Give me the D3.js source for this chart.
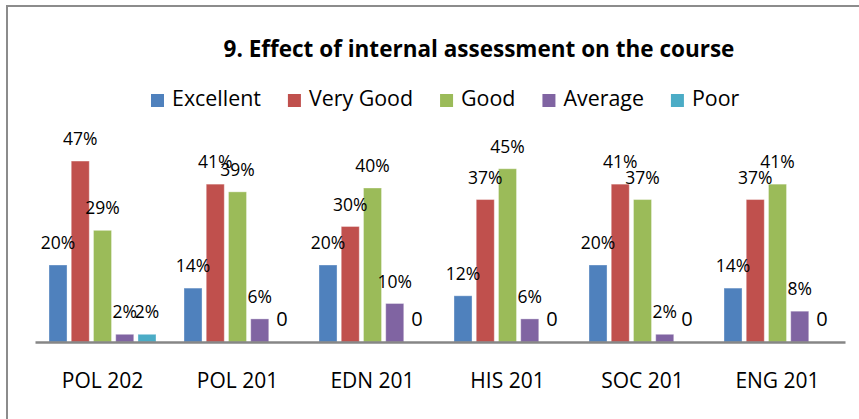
<!DOCTYPE html>
<html lang="en">
	<head>
		<meta charset="utf-8">
		<title>Effect of internal assessment</title>
		<script type="text/javascript" src="https://cdn.jsdelivr.net/npm/d3@7"></script>
		<style type="text/css">
			body{
				margin: 0;
				background: #fff;
			}
			text{
				font-family: "Open Sans", sans-serif;
				fill: #000;
			}
		</style>
	</head>
	<body>
		<script type="text/javascript">

			//Data
			var courses = ["POL 202", "POL 201", "EDN 201", "HIS 201", "SOC 201", "ENG 201"];
			var ratings = ["Excellent", "Very Good", "Good", "Average", "Poor"];
			var excellent = [20, 14, 20, 12, 20, 14];
			var veryGood  = [47, 41, 30, 37, 41, 37];
			var good      = [29, 39, 40, 45, 37, 41];
			var average   = [2, 6, 10, 6, 2, 8];
			var poor      = [2, 0, 0, 0, 0, 0];
			var colors = ["#4F81BD", "#C0504D", "#9BBB59", "#8064A2", "#4BACC6"];

			var series = [excellent, veryGood, good, average, poor];

			//Width and height
			var w = 859;
			var h = 419;
			var baseY = 342;

			var svg = d3.select("body")
						.append("svg")
						.attr("width", w)
						.attr("height", h);

			//frame (only top and left edges show)
			svg.append("path")
			   .attr("d", "M7,419 L7,6 L859,6")
			   .attr("fill", "none")
			   .attr("stroke", "#8c8c8c")
			   .attr("stroke-width", 2);

			//title
			svg.append("text")
			   .attr("x", 479)
			   .attr("y", 57)
			   .attr("text-anchor", "middle")
			   .style("font-size", "22.5px")
			   .style("font-weight", "bold")
			   .text("9. Effect of internal assessment on the course");

			//scales
			var x0 = d3.scaleBand()
					   .domain(courses)
					   .range([35, 845]);

			var x1 = d3.scaleBand()
					   .domain(ratings)
					   .range([14, 121])
					   .paddingInner(0.19)
					   .paddingOuter(0);

			var y = d3.scaleLinear()
					  .domain([0, 50])
					  .range([baseY, baseY - 192.5]);

			var color = d3.scaleOrdinal()
						  .domain(ratings)
						  .range(colors);

			//flatten rows
			var rows = [];
			courses.forEach(function(c, i){
				ratings.forEach(function(r, j){
					rows.push({course: c, rating: r, value: series[j][i]});
				});
			});

			var groups = svg.selectAll("g.course")
							.data(courses)
							.enter()
							.append("g")
							.attr("class", "course")
							.attr("transform", function(d){ return "translate(" + x0(d) + ",0)"; });

			groups.selectAll("rect")
				  .data(function(c){ return rows.filter(function(r){ return r.course == c && r.value > 0; }); })
				  .enter()
				  .append("rect")
				  .attr("x", function(d){ return x1(d.rating); })
				  .attr("y", function(d){ return y(d.value); })
				  .attr("width", x1.bandwidth())
				  .attr("height", function(d){ return baseY - y(d.value); })
				  .attr("fill", function(d){ return color(d.rating); })
				  .attr("stroke", "rgba(255,255,255,0.35)")
				  .attr("stroke-width", 1);

			//value labels
			groups.selectAll("text.val")
				  .data(function(c){ return rows.filter(function(r){ return r.course == c; }); })
				  .enter()
				  .append("text")
				  .attr("class", "val")
				  .attr("x", function(d){ return x1(d.rating) + x1.bandwidth() / 2; })
				  .attr("y", function(d){ return y(d.value) - 16; })
				  .attr("text-anchor", "middle")
				  .style("font-size", function(d){ return d.value == 0 ? "20px" : "17.5px"; })
				  .text(function(d){ return d.value == 0 ? "0" : d.value + "%"; });

			//axis
			var axis = svg.append("g")
						  .attr("transform", "translate(0," + baseY + ")")
						  .call(d3.axisBottom(x0).tickSize(0).tickSizeOuter(0));

			axis.select(".domain")
				.attr("stroke", "#868686")
				.attr("stroke-width", 2.5);

			axis.selectAll("text")
				.attr("y", 46)
				.attr("dy", 0)
				.style("font-size", "21px")
				.style("font-family", "'Open Sans', sans-serif")
				.attr("fill", "#000");

			//legend
			var legend = svg.append("g").attr("class", "legend");
			var lx = 151;
			ratings.forEach(function(r){
				legend.append("rect")
					  .attr("x", lx)
					  .attr("y", 94)
					  .attr("width", 13)
					  .attr("height", 13)
					  .attr("fill", color(r));
				var t = legend.append("text")
							  .attr("x", lx + 21)
							  .attr("y", 106)
							  .style("font-size", "21.4px")
							  .text(r);
				lx = lx + 21 + t.node().getComputedTextLength() + 27;
			});

		</script>
	</body>
</html>
